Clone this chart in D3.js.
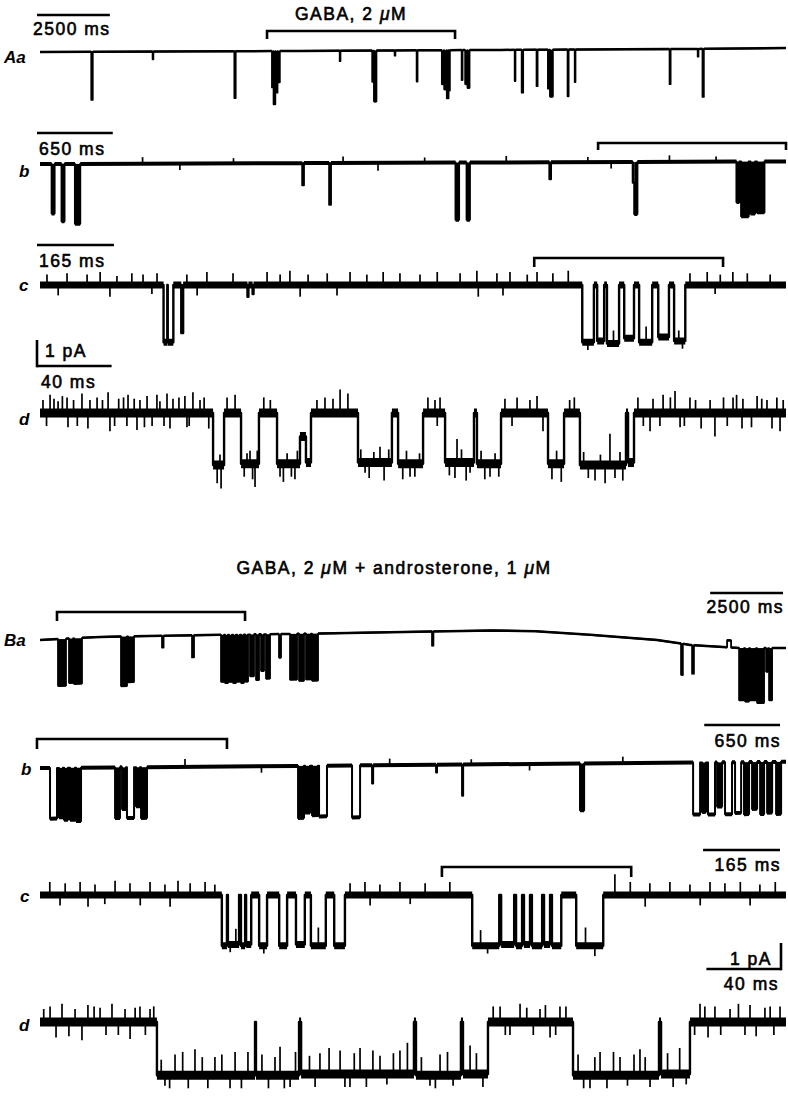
<!DOCTYPE html>
<html><head><meta charset="utf-8">
<script src="https://cdn.jsdelivr.net/npm/d3@7"></script>
<style>
html,body{margin:0;padding:0;background:#fff;}
svg text{font-family:"Liberation Sans",Arial,Helvetica,sans-serif;fill:#000;}
</style></head><body>
<svg id="fig" width="788" height="1102"></svg>
<script>
// ================= DATA =================
const conditionLabels = ["GABA, 2 μM", "GABA, 2 μM + androsterone, 1 μM"];
const rowLabelsA = ["Aa", "b", "c", "d"];
const rowLabelsB = ["Ba", "b", "c", "d"];
// Sweep length of each row (ms)
const sweepMs = [25600, 6400, 1600, 400];
// Calibration bars
const timeBarMs = [2500, 650, 165, 40];
const currentBarPA = 1;
const currentBarLabel = "1 pA";
// Brackets: part of a row expanded in the row below [start ms, end ms]
const bracketsA = [[7791, 14243], [4788, 6400], [1060, 1465]];
const bracketsB = [[583, 7036], [-26, 1604], [862, 1268]];

// Channel openings: [start ms, end ms, amplitude pA]
const openAa = [
  [1760,1810,-1.85],[3865,3890,-0.3],[6670,6715,-1.8],
  [7960,8010,-1.4],[8015,8075,-2.05],[8085,8150,-1.6],[8165,8230,-1.2],
  [10285,10310,-0.4],[11400,11450,-1.2],[11460,11545,-1.95],
  [12170,12195,-0.2],[12925,12955,-1.2],
  [13790,13860,-1.3],[13870,13950,-1.5],[13960,14020,-1.85],[14025,14065,-1.55],
  [14470,14500,-1.15],[14590,14660,-1.3],[14670,14740,-1.45],
  [16290,16315,-1.2],[16530,16580,-1.65],[17040,17075,-1.4],
  [17430,17470,-1.5],[17500,17600,-1.8],[18105,18140,-1.8],[18350,18375,-1.25],
  [21605,21640,-1.35],[22570,22595,-0.3],[22735,22780,-1.85]
];
const openAb = [
  [100,125,-1.9],[185,210,-2.2],[300,345,-2.3],
  [2250,2264,-0.85],[2481,2496,-1.6],[3565,3595,-2.2],[3660,3688,-2.2],
  [4370,4384,-0.65],[5085,5098,-0.8],[5098,5125,-2.0],
  [5975,6000,-1.55],[6015,6080,-2.1],[6095,6135,-2.0],[6150,6215,-1.95]
];
const openAc = [
  [265,273,-2.2],[274,286,-2.2],[303,307,-1.85],[445,447,-0.45],[456,458,-0.35],
  [1163,1188,-2.2],[1195,1210,-2.15],[1216,1242,-2.25],[1253,1274,-2.05],
  [1285,1313,-2.2],[1326,1349,-2.0],[1360,1384,-2.15]
];
const openAd = [
  [92.8,98.7,-2.0],[107.8,117.4,-1.95],[127.1,139.4,-1.95],[139.4,142.6,-0.9],[142.6,145.3,-1.9],
  [170.5,188.7,-1.9],[192.0,205.4,-1.95],[217.2,232.7,-1.9],[234.3,247.2,-1.95],
  [272.4,281.0,-1.95],[289.5,314.2,-2.0],[315.3,318.5,-1.9]
];
const openBa = [
  [618,892,-1.8],[995,1133,-1.7],[1167,1441,-1.75],
  [2780,2986,-1.9],[3020,3226,-1.75],[4187,4240,-0.45],[5217,5285,-0.85],
  [6212,6315,-1.8],[6349,6452,-1.85],[6486,6589,-1.8],[6624,6727,-1.85],[6761,6864,-1.8],
  [6898,7001,-1.85],[7036,7139,-1.8],[7207,7344,-1.6],[7413,7516,-1.75],[7585,7688,-1.4],
  [7756,7894,-1.7],[8202,8271,-0.9],[8580,8820,-1.75],[8889,9060,-1.8],[9129,9301,-1.75],
  [9335,9541,-1.8],[13453,13500,-0.55],[21999,22060,-1.2],[22377,22440,-1.1],[23578,23715,0.27],
  [23990,24161,-2.0],[24196,24333,-2.05],[24367,24573,-2.0],[24607,24847,-2.1],
  [24916,24985,-0.9],[25019,25122,-2.0]
];
const openBb = [
  [86,146,-1.95],[163,197,-1.9],[206,240,-2.0],[257,300,-2.0],[309,352,-2.05],
  [644,686,-1.95],[704,738,-1.6],[746,807,-1.95],[824,858,-1.5],[867,918,-1.95],
  [2214,2265,-2.0],[2274,2317,-1.8],[2334,2385,-1.9],[2394,2462,-1.95],[2677,2746,-2.0],
  [2849,2858,-0.7],[3398,3406,-0.3],[3621,3630,-1.2],[4633,4668,-1.8],
  [5603,5663,-2.0],[5680,5714,-1.9],[5731,5791,-2.0],[5809,5852,-1.7],[5877,5937,-2.0],
  [5963,6015,-1.95],[6040,6083,-2.0],[6109,6152,-1.8],[6178,6212,-2.0],[6238,6281,-1.95],
  [6315,6358,-2.0]
];
const openBc = [
  [390,401,-1.95],[403,427,-1.9],[431,440,-1.95],[442,453,-1.9],[470,487,-1.95],
  [513,530,-1.95],[549,568,-1.9],[581,613,-1.95],[631,654,-1.95],
  [927,985,-1.95],[989,1017,-1.9],[1021,1034,-1.95],[1038,1051,-1.9],[1055,1077,-1.95],
  [1081,1094,-1.9],[1098,1118,-1.95],[1150,1208,-1.95]
];
const openBd = [
  [62.7,115.3,-2.05],[115.8,138.9,-2.05],[140.0,200.5,-2.0],[201.6,225.7,-2.05],
  [226.8,240.2,-2.0],[285.8,331.9,-2.05],[333.0,348.5,-2.0]
];

// Slow baseline drift: [ms, pA]
const driftAa = [[0,0],[8900,0.04],[15800,0.08],[22600,0.12],[25600,0.15]];
const driftAb = [[0,-0.04],[6400,0.06]];
const driftBa = [[0,0],[2059,0.12],[6178,0.2],[9610,0.25],[13488,0.33],[15500,0.37],[17000,0.34],
  [18876,0.2],[21175,0.0],[22308,-0.19],[24024,-0.31],[25600,-0.31]];
const driftBb = [[0,-0.04],[6400,0.2]];

// Largest noise excursions: [ms, pA relative to the current level]
const spikesAb = [[880,0.25],[1200,-0.25],[1660,0.2],[2600,0.25],[2900,-0.3],[3300,0.2],
  [4000,0.25],[4700,0.2],[4900,-0.25],[5400,0.25],[5800,0.2]];
const spikesAc = [[15,0.4],[58,0.45],[101,0.4],[129,0.5],[165,0.35],[197,0.45],[221,0.4],[251,0.45],
  [315,0.4],[358,0.5],[414,0.45],[457,0.35],[487,0.5],[515,0.4],[536,0.55],[575,0.4],[616,0.45],
  [665,0.5],[701,0.4],[736,0.5],[772,0.45],[815,0.4],[852,0.5],[901,0.45],[937,0.55],[980,0.45],
  [1008,0.5],[1045,0.4],[1066,0.5],[1100,0.45],[1133,0.55],[1394,0.45],[1431,0.5],[1459,0.4],
  [1486,0.5],[1517,0.45],[1566,0.4],
  [39,-0.4],[150,-0.45],[240,-0.35],[337,-0.4],[558,-0.45],[637,-0.4],[940,-0.45],[993,-0.4],[1448,-0.35],
  [1175,-0.3],[1230,0.5],[1300,0.6],[1370,0.4],[1378,-0.3]];
const spikesAd = [[1.6,0.5],[5.4,0.7],[9.7,0.45],[14.5,0.6],[22.5,0.75],[26.8,0.5],[30.6,0.6],
  [36.5,0.8],[42.2,0.55],[47.2,0.7],[53.6,0.5],[57.4,0.65],[62.7,0.7],[64.3,0.45],[68.1,0.75],
  [71.3,0.55],[77.7,0.65],[82.0,0.8],[85.8,0.5],
  [15.0,-0.55],[25.7,-0.6],[37.5,-0.7],[46.6,-0.5],[52.0,-0.65],[60.1,-0.5],[69.7,-0.6],[78.8,-0.55],
  [3.5,-0.5],[7.5,0.55],[12.0,0.65],[18.0,0.5],[20.0,-0.5],[33.5,0.5],[40.0,-0.5],[44.8,0.6],
  [50.5,0.55],[56.0,-0.55],[66.5,-0.5],[74.5,0.6],[80.0,-0.5],[88.0,0.6],[90.5,-0.6],
  [100.3,0.6],[104.6,0.7],[148.5,0.5],[152.8,0.6],[157.1,0.55],[160.9,0.9],[165.1,0.75],
  [208.0,0.6],[211.8,0.5],[249.3,0.55],[255.8,0.6],[262.7,0.5],[266.5,0.65],[253.1,-0.5],[269.7,-0.7],
  [120.0,0.6],[123.5,0.5],[284.0,0.5],[286.5,0.6],[214.5,0.6],[213.0,-0.5],
  [97.1,-0.9],[115.3,-0.9],[128.7,-0.5],[136.7,-0.6],[174.3,-0.4],[198.4,-0.5],[222.5,-0.6],
  [230.6,-0.4],[241.3,-0.5],[297.6,-0.6],[308.3,-0.5],[223.6,0.9],[305.6,1.2],[112.6,0.5],[182.3,0.6],
  [95.0,-0.7],[96.5,0.4],[109.5,-0.5],[111.0,0.4],[114.0,-0.6],[116.5,0.5],[130.5,-0.7],[132.5,0.4],
  [134.8,-0.5],[138.0,0.5],[172.0,0.5],[176.5,-0.6],[179.0,0.4],[184.5,-0.7],[187.0,0.5],
  [194.5,-0.6],[196.5,0.5],[201.0,-0.5],[203.5,0.4],[219.5,-0.5],[226.0,0.5],[228.5,-0.7],
  [236.5,0.5],[238.5,-0.6],[244.0,0.4],[246.0,-0.5],[274.5,-0.6],[277.0,0.5],[279.5,-0.7],
  [291.5,0.5],[294.0,-0.5],[300.5,0.4],[303.0,-0.7],[311.0,0.5],[312.5,-0.6],
  [320.6,0.6],[328.7,0.55],[334.1,0.7],[340.5,0.85],[348.5,0.6],[359.3,0.5],[371.6,0.6],[376.9,0.55],
  [384.5,0.65],[389.8,0.5],[395.1,0.6],[327.1,-0.7],[332.4,-0.5],[343.2,-0.55],[361.9,-0.9],
  [376.4,-0.6],[396.8,-0.7],[323.5,-0.5],[338.0,0.6],[345.5,-0.5],[351.5,0.5],[354.5,-0.6],
  [366.5,0.6],[368.5,-0.5],[373.5,0.7],[381.5,-0.55],[387.0,0.55],[392.5,-0.6],[398.5,0.5]];
const spikesBb = [[1244,0.3],[1900,-0.25],[3000,0.25],[3700,0.2],[4200,-0.25],[5000,0.25]];
const spikesBc = [[21,0.5],[54,0.45],[86,0.5],[118,0.4],[161,0.55],[193,0.45],[236,0.5],[268,0.4],
  [296,0.55],[322,0.45],[354,0.5],[375,0.4],[665,0.45],[697,0.5],[729,0.4],[772,0.5],[826,0.45],
  [879,0.5],[1233,0.8],[1266,0.5],[1308,0.45],[1351,0.5],[1394,0.4],[1437,0.5],[1469,0.45],
  [1502,0.5],[1544,0.4],[1577,0.5],
  [43,-0.4],[103,-0.45],[139,-0.35],[215,-0.4],[279,-0.45],[708,-0.4],[794,-0.35],[1298,-0.45],
  [1416,-0.4],[1523,-0.4],
  [408,-0.3],[420,0.6],[480,-0.3],[597,0.7],[945,0.6],[960,-0.3],[1170,0.7],[1190,-0.4]];
const spikesBd = [[5.4,0.6],[11.8,0.7],[18.8,0.5],[25.7,0.65],[32.2,0.55],[38.6,0.7],[45.6,0.5],
  [53.6,0.6],[59.0,0.5],[8.6,-0.6],[22.5,-0.7],[35.4,-0.5],[48.3,-0.65],
  [2.0,0.5],[15.5,-0.55],[29.0,0.6],[42.0,-0.5],[51.0,0.55],[56.5,-0.5],[61.0,0.6],
  [72.4,0.8],[83.1,1.0],[93.8,0.7],[104.6,0.9],[128.7,1.1],[150.1,0.8],[160.9,0.9],[171.6,1.0],
  [182.3,0.7],[193.0,0.9],[214.5,0.8],[230.6,1.1],[300.3,0.9],[311.0,0.7],[321.7,1.0],
  [67.0,-0.4],[101.9,-0.5],[134.1,-0.45],[166.2,-0.5],[209.1,-0.4],[294.9,-0.5],[327.1,-0.45],
  [65.0,0.6],[69.5,-0.5],[76.5,0.9],[79.5,-0.5],[87.0,0.7],[90.0,-0.5],[97.5,0.8],[108.0,-0.5],
  [111.5,0.9],[119.0,0.8],[122.5,-0.5],[126.0,0.7],[131.0,-0.5],[137.0,0.9],[144.5,0.7],[147.5,-0.5],
  [155.0,1.0],[163.5,-0.5],[168.5,0.8],[175.0,-0.5],[178.5,0.9],[186.0,-0.4],[189.5,0.8],[197.0,1.2],
  [204.5,0.7],[212.0,-0.5],[218.5,0.9],[221.5,-0.4],[234.0,0.8],[237.5,-0.5],
  [288.5,0.8],[291.5,-0.5],[297.5,0.7],[304.0,-0.5],[307.5,0.9],[315.0,-0.4],[318.5,0.8],[324.5,0.7],
  [336.5,0.8],[339.5,-0.5],[343.0,1.0],[346.5,-0.4],
  [246.7,0.6],[257.4,0.7],[268.1,0.5],[278.8,0.6],[252.0,-0.5],[273.5,-0.6],
  [243.0,0.6],[249.5,-0.5],[261.0,0.55],[264.5,-0.5],[271.0,0.65],[276.5,-0.5],[282.0,0.6],
  [353.9,0.7],[361.9,0.6],[370.0,0.5],[380.7,0.65],[388.7,0.55],[396.8,0.6],[358.2,-0.6],[378.0,-0.5],
  [351.0,-0.5],[356.5,0.6],[365.0,-0.5],[374.5,0.7],[384.0,-0.55],[391.5,0.6],[393.5,-0.5]];

// ================= LAYOUT / STYLE =================
const X_LEFT = 40, X_RIGHT = 786, PX_PER_PA = 26;
const svg = d3.select("#fig");

const rows = [
  {events: openAa, drift: driftAa, spikes: [],       dur: sweepMs[0], baseY: 52,   band: 2.5, lw: 1.8, fill: 10},
  {events: openAb, drift: driftAb, spikes: spikesAb, dur: sweepMs[1], baseY: 163,  band: 4,   lw: 2.0, fill: 10},
  {events: openAc, drift: null,    spikes: spikesAc, dur: sweepMs[2], baseY: 285,  band: 7,   lw: 2.4, fill: 3},
  {events: openAd, drift: null,    spikes: spikesAd, dur: sweepMs[3], baseY: 413,  band: 9,   lw: 2.4, fill: 0},
  {events: openBa, drift: driftBa, spikes: [],       dur: sweepMs[0], baseY: 640,  band: 2.5, lw: 1.8, fill: 10},
  {events: openBb, drift: driftBb, spikes: spikesBb, dur: sweepMs[1], baseY: 767,  band: 4,   lw: 2.0, fill: 6},
  {events: openBc, drift: null,    spikes: spikesBc, dur: sweepMs[2], baseY: 895,  band: 7,   lw: 2.4, fill: 3},
  {events: openBd, drift: null,    spikes: spikesBd, dur: sweepMs[3], baseY: 1022, band: 9,   lw: 2.4, fill: 0}
];

function buildSegments(events, dur) {
  const ev = events.slice().sort((a, b) => a[0] - b[0]);
  const segs = [];
  let t = 0;
  for (const [s, e, a] of ev) {
    if (s > t) segs.push([t, s, 0]);
    segs.push([Math.max(s, t), e, a]);
    t = Math.max(t, e);
  }
  if (t < dur) segs.push([t, dur, 0]);
  return segs;
}

rows.forEach(r => {
  r.x = d3.scaleLinear().domain([0, r.dur]).range([X_LEFT, X_RIGHT]);
  r.y = d3.scaleLinear().domain([0, 1]).range([r.baseY, r.baseY - PX_PER_PA]);
  const dr = r.drift || [[0, 0], [r.dur, 0]];
  const driftF = d3.scaleLinear().domain(dr.map(d => d[0])).range(dr.map(d => d[1])).clamp(true);
  const knots = dr.map(d => d[0]);
  const segs = buildSegments(r.events, r.dur);
  const g = svg.append("g");
  const line = d3.line().x(d => r.x(d[0])).y(d => r.y(d[1]));

  // brief openings appear filled in the recording
  g.selectAll("rect").data(r.events.filter(d => d[2] < 0 && r.x(d[1]) - r.x(d[0]) < r.fill)).join("rect")
    .attr("x", d => r.x(d[0])).attr("width", d => r.x(d[1]) - r.x(d[0]))
    .attr("y", d => r.y(driftF(d[0])))
    .attr("height", d => r.y(driftF(d[0]) + d[2]) - r.y(driftF(d[0])))
    .attr("fill", "#000");

  // full step trace
  const pts = [];
  segs.forEach(([s, e, a]) => {
    pts.push([s, driftF(s) + a]);
    knots.filter(k => k > s && k < e).forEach(k => pts.push([k, driftF(k) + a]));
    pts.push([e, driftF(e) + a]);
  });
  g.append("path").attr("d", line(pts)).attr("fill", "none").attr("stroke", "#000")
    .attr("stroke-width", r.lw).attr("stroke-linejoin", "round");

  // noise band on dwell levels
  const bandD = segs.filter(([s, e]) => r.x(e) - r.x(s) > 2).map(([s, e, a]) => {
    const p = [[s, driftF(s) + a]];
    knots.filter(k => k > s && k < e).forEach(k => p.push([k, driftF(k) + a]));
    p.push([e, driftF(e) + a]);
    return line(p);
  }).join("");
  g.append("path").attr("d", bandD).attr("fill", "none").attr("stroke", "#000")
    .attr("stroke-width", r.band).attr("stroke-linecap", "butt");

  // noise excursions
  const levelAt = t => {
    const seg = segs.find(s => t >= s[0] && t <= s[1]) || [0, 0, 0];
    return driftF(t) + seg[2];
  };
  g.selectAll("line.sp").data(r.spikes).join("line")
    .attr("x1", d => r.x(d[0])).attr("x2", d => r.x(d[0]))
    .attr("y1", d => r.y(levelAt(d[0])))
    .attr("y2", d => r.y(levelAt(d[0]) + d[1]))
    .attr("stroke", "#000").attr("stroke-width", 1.7);
});

// ---- text helpers ----
function richText(sel, str) {
  const parts = str.split("μ");
  parts.forEach((p, i) => {
    if (i > 0) sel.append("tspan").attr("font-style", "italic").text("μ");
    if (p) sel.append("tspan").text(p);
  });
}
function calText(x, y, str, anchor) {
  const t = svg.append("text").attr("x", x).attr("y", y).attr("text-anchor", anchor || "start")
    .attr("font-size", 17.5).attr("letter-spacing", 1.5)
    .attr("stroke", "#000").attr("stroke-width", 0.6);
  richText(t, str);
  return t;
}
function rowLabel(x, y, str) {
  svg.append("text").attr("x", x).attr("y", y).attr("font-size", 17)
    .attr("font-weight", "bold").attr("font-style", "italic").text(str);
}
function bracket(r, [t0, t1], yTop, tick) {
  svg.append("path")
    .attr("d", `M${r.x(t0)},${yTop + tick}V${yTop}H${r.x(t1)}V${yTop + tick}`)
    .attr("fill", "none").attr("stroke", "#000").attr("stroke-width", 2.6);
}
function hbar(x0, x1, y) {
  svg.append("line").attr("x1", x0).attr("x2", x1).attr("y1", y).attr("y2", y)
    .attr("stroke", "#000").attr("stroke-width", 2.6);
}
function vbar(x, y0, y1) {
  svg.append("line").attr("x1", x).attr("x2", x).attr("y1", y0).attr("y2", y1)
    .attr("stroke", "#000").attr("stroke-width", 2.6);
}

// ---- condition titles ----
calText(351, 20, conditionLabels[0], "middle");
calText(394, 574, conditionLabels[1], "middle");

// ---- row labels ----
const labelPosA = [[4, 63], [19, 177], [19, 291], [19, 425]];
const labelPosB = [[4, 646], [21, 775], [20, 902], [19, 1031]];
rowLabelsA.forEach((l, i) => rowLabel(labelPosA[i][0], labelPosA[i][1], l));
rowLabelsB.forEach((l, i) => rowLabel(labelPosB[i][0], labelPosB[i][1], l));

// ---- brackets ----
const bracketYA = [[31, 8], [143, 7], [258, 9]];
const bracketYB = [[612, 9], [739, 10], [867, 10]];
bracketsA.forEach((b, i) => bracket(rows[i], b, bracketYA[i][0], bracketYA[i][1]));
bracketsB.forEach((b, i) => bracket(rows[4 + i], b, bracketYB[i][0], bracketYB[i][1]));

// ---- calibration bars ----
const barLen = (rowIdx, level) => rows[rowIdx].x(timeBarMs[level]) - rows[rowIdx].x(0);
const calA = [[15, 35], [133, 155], [245, 267]];
[0, 1, 2].forEach(i => {
  hbar(37, 37 + barLen(i, i), calA[i][0]);
  calText(i === 0 ? 33 : 39, calA[i][1], `${timeBarMs[i]} ms`);
});
{
  const yb = 366, pa = rows[3].y(0) - rows[3].y(currentBarPA);
  vbar(37, yb - pa, yb + 1.3);
  hbar(37, 37 + barLen(3, 3), yb);
  calText(45, 357, currentBarLabel);
  calText(41, 388, `${timeBarMs[3]} ms`);
}
const calB = [[593, 613, 783], [725, 747, 780], [850, 871, 780]];
[0, 1, 2].forEach(i => {
  const xe = calB[i][2];
  hbar(xe - barLen(4 + i, i), xe, calB[i][0]);
  calText(xe + 1, calB[i][1], `${timeBarMs[i]} ms`, "end");
});
{
  const yb = 969, xe = 781, pa = rows[7].y(0) - rows[7].y(currentBarPA);
  vbar(xe, yb - pa, yb + 1.3);
  hbar(xe - barLen(7, 3), xe, yb);
  calText(772, 965, currentBarLabel, "end");
  calText(779, 990, `${timeBarMs[3]} ms`, "end");
}
</script>
</body></html>
